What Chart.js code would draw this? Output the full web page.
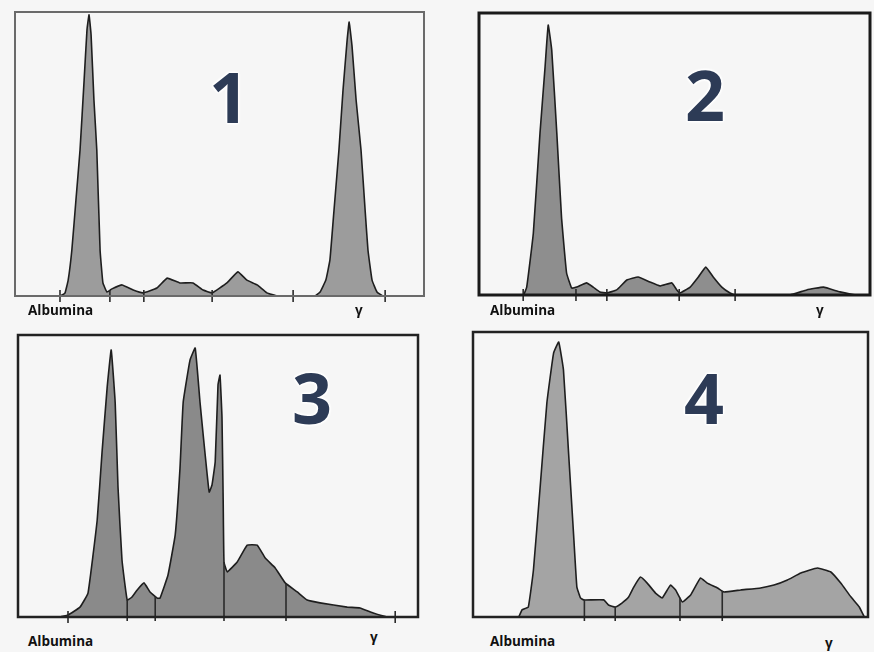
<!DOCTYPE html>
<html>
<head>
<meta charset="utf-8">
<script src="https://cdn.jsdelivr.net/npm/chart.js@4/dist/chart.umd.min.js"></script>
<style>
  html, body { margin:0; padding:0; background:#f6f6f6; }
  body { width:874px; height:652px; position:relative; overflow:hidden; font-family:"Open Sans", "Noto Sans", sans-serif; }
  canvas { position:absolute; }
  .lbl { position:absolute; font-weight:700; font-size:13.5px; color:#111; line-height:1; white-space:nowrap; }
  .num { position:absolute; font-family:"Open Sans", sans-serif; font-weight:700; font-size:70px; line-height:1; color:#2d3b56;
         text-shadow: 0 0 2px #fff, 0 0 3px #fff, 1px 1px 2px #fff, -1px -1px 2px #fff, 1px -1px 2px #fff, -1px 1px 2px #fff; transform:translate(-50%,-50%); }
</style>
</head>
<body>
<canvas id="c1"></canvas>
<canvas id="c2"></canvas>
<canvas id="c3"></canvas>
<canvas id="c4"></canvas>
<script>
// ---- data (mobility 0-100 across each panel, relative density 0-100) ----
const axisLabels = ['Albumina', 'γ'];
const panelNumbers = ['1', '2', '3', '4'];

const p1X = [0, 11.0, 12.2, 13.0, 13.9, 14.9, 15.9, 16.9, 17.6, 18.1, 18.6, 19.3, 20.0, 20.8, 21.5, 22.5, 23.7, 26.2, 28.9, 31.3, 34.7, 37.2, 40.3, 43.5, 46.0, 48.2, 51.8, 54.5, 56.7, 59.2, 61.6, 64.1, 73.3, 74.6, 76.0, 77.0, 78.0, 79.2, 80.2, 81.2, 81.7, 82.4, 83.4, 84.6, 85.6, 86.3, 87.3, 88.5, 90.0, 100];
const p1Y = [0, 0, 1, 5.6, 16.2, 33.8, 51.4, 76, 93.7, 99, 92, 69, 51.4, 16.2, 4.6, 1.4, 2.5, 3.9, 2.1, 1.1, 2.8, 6.3, 4.6, 4.6, 2.1, 1.1, 4.6, 8.5, 5.6, 3.9, 1.1, 0, 0, 1.4, 5.6, 12.7, 30.3, 51.4, 72.5, 90, 96.5, 88, 69, 51.4, 30.3, 16.2, 5.6, 1.4, 0, 0];
const p1Dividers = [11.0, 23.2, 31.5, 48.2, 68.0, 90.5];

const p2X = [0, 11.3, 12.2, 13.9, 15.6, 16.9, 17.7, 18.6, 19.9, 21.1, 22.4, 23.7, 25.0, 27.5, 29.2, 30.9, 32.7, 35.2, 37.8, 40.7, 43.7, 46.3, 49.3, 50.6, 51.4, 54.0, 56.1, 58.0, 59.9, 62.1, 64.2, 65.5, 79.5, 83.8, 88.1, 92.3, 96.6, 100];
const p2Y = [0, 0, 2.8, 22.0, 57.4, 80.9, 95.7, 86.9, 57.4, 27.7, 7.8, 2.5, 2.8, 4.3, 2.8, 1.1, 0.7, 1.8, 5.3, 6.4, 4.6, 3.2, 4.3, 1.8, 0.7, 2.8, 6.4, 9.9, 6.4, 2.8, 0.7, 0, 0, 1.8, 2.8, 1.1, 0, 0];
const p2Dividers = [11.3, 24.8, 32.7, 51.2, 65.5];

const p3X = [0, 10.5, 12.5, 15.5, 17.5, 19.8, 21.0, 22.3, 23.3, 24.3, 25.0, 26.0, 27.3, 28.5, 29.8, 31.5, 33.0, 34.8, 35.5, 37.5, 39.3, 40.5, 41.3, 43.0, 44.3, 45.5, 46.3, 47.3, 47.8, 48.5, 49.3, 50.0, 50.5, 51.0, 51.3, 51.5, 52.3, 54.8, 57.3, 59.8, 61.8, 64.3, 66.8, 69.8, 72.3, 75.5, 82.3, 85.5, 88.8, 92.3, 94.3, 100];
const p3Y = [0, 0, 0.7, 3.5, 8.5, 34.4, 58.2, 81.6, 94.7, 75.9, 46.1, 20.2, 6.0, 7.1, 9.6, 12.1, 8.9, 6.7, 6.7, 14.9, 29.1, 52.8, 76.2, 91.1, 95.4, 76.2, 64.5, 50.4, 44.3, 46.8, 55.0, 82.3, 85.8, 70.6, 40.8, 19.5, 16.0, 19.5, 25.5, 25.5, 20.9, 17.4, 12.1, 8.9, 6.0, 5.0, 3.5, 3.2, 1.4, 0, 0, 0];
const p3Dividers = [12.5, 27.3, 34.3, 51.5, 67.0, 94.3];
const p3DividerKinds = ['tick', 'line', 'line', 'line', 'line', 'tick'];

const p4X = [0, 11.5, 12.4, 14.0, 15.3, 17.0, 18.7, 20.4, 21.7, 22.9, 24.2, 25.5, 26.3, 27.2, 28.0, 33.1, 34.3, 36.0, 37.7, 39.4, 40.7, 42.4, 44.1, 46.2, 47.9, 50.0, 51.3, 53.0, 55.1, 57.6, 59.3, 61.9, 63.5, 67.8, 72.8, 76.2, 79.6, 83.0, 87.2, 90.6, 93.1, 95.7, 97.8, 99.1, 100];
const p4Y = [0, 0, 2.5, 3.5, 16.5, 45.6, 75.1, 92.6, 96.5, 86.7, 57.5, 28.1, 10.5, 6.7, 6.0, 6.0, 4.2, 3.5, 4.9, 7.0, 10.5, 14.0, 11.9, 8.4, 6.7, 11.2, 9.5, 5.3, 7.7, 13.7, 11.9, 10.2, 8.8, 9.5, 10.2, 11.2, 13.0, 15.4, 17.2, 15.8, 11.9, 7.0, 3.5, 0, 0];
const p4Dividers = [28.2, 36.0, 52.4, 63.1];
const p4DividerKinds = ['line', 'line', 'line', 'line'];

// ---- layout / styles ----
const panels = [
  { id:'c1', box:[15, 12, 424, 296], xs:p1X, ys:p1Y, div:p1Dividers, kinds:null, fill:'#9c9c9c', frame:'#6a6a6a', frameW:2,
    num:[229, 96], albu:[28, 304], gam:[355, 304] },
  { id:'c2', box:[479, 13, 870, 295], xs:p2X, ys:p2Y, div:p2Dividers, kinds:null, fill:'#8e8e8e', frame:'#1a1a1a', frameW:3,
    num:[705, 94], albu:[490, 304], gam:[816, 304] },
  { id:'c3', box:[18, 335, 418, 617], xs:p3X, ys:p3Y, div:p3Dividers, kinds:p3DividerKinds, fill:'#8a8a8a', frame:'#222', frameW:2.5,
    num:[312, 397], albu:[28, 635], gam:[370, 631] },
  { id:'c4', box:[473, 332, 868, 617], xs:p4X, ys:p4Y, div:p4Dividers, kinds:p4DividerKinds, fill:'#a4a4a4', frame:'#222', frameW:2.5,
    num:[704, 397], albu:[490, 635], gam:[825, 637] }
];

function interp(xs, ys, x) {
  for (let i = 1; i < xs.length; i++) {
    if (x <= xs[i]) {
      const t = (x - xs[i-1]) / (xs[i] - xs[i-1] || 1);
      return ys[i-1] + t * (ys[i] - ys[i-1]);
    }
  }
  return ys[ys.length - 1];
}

const framePlugin = {
  id: 'frameAndDividers',
  afterDatasetsDraw(chart, args, opts) {
    const { ctx, chartArea: a, scales } = chart;
    const p = opts.panel;
    ctx.save();
    ctx.strokeStyle = '#2a2a2a';
    ctx.lineWidth = 1.6;
    p.div.forEach((dx, i) => {
      const kind = p.kinds ? p.kinds[i] : 'tick';
      const x = scales.x.getPixelForValue(dx);
      ctx.beginPath();
      if (kind === 'line') {
        const v = interp(p.xs, p.ys, dx);
        ctx.moveTo(x, a.bottom + 4);
        ctx.lineTo(x, scales.y.getPixelForValue(v));
      } else {
        ctx.moveTo(x, a.bottom - 6);
        ctx.lineTo(x, a.bottom + 6);
      }
      ctx.stroke();
    });
    ctx.strokeStyle = p.frame;
    ctx.lineWidth = p.frameW;
    ctx.strokeRect(a.left, a.top, a.right - a.left, a.bottom - a.top);
    ctx.restore();
  }
};

const PAD = 8;
panels.forEach((p, k) => {
  const [L, T, R, B] = p.box;
  const padR = Math.min(PAD, 874 - R - 1);
  const cv = document.getElementById(p.id);
  cv.width = (R - L) + PAD + padR;
  cv.height = (B - T) + 2 * PAD;
  cv.style.left = (L - PAD) + 'px';
  cv.style.top = (T - PAD) + 'px';
  new Chart(cv, {
    type: 'line',
    data: {
      datasets: [{
        data: p.xs.map((x, i) => ({ x, y: p.ys[i] })),
        fill: 'origin',
        backgroundColor: p.fill,
        borderColor: '#1e1e1e',
        borderWidth: 1.6,
        borderJoinStyle: 'round',
        pointRadius: 0,
        tension: 0.1
      }]
    },
    options: {
      responsive: false,
      animation: false,
      devicePixelRatio: 1,
      layout: { padding: { left: PAD, right: padR, top: PAD, bottom: PAD } },
      plugins: { legend: { display: false }, tooltip: { enabled: false }, frameAndDividers: { panel: p } },
      scales: {
        x: { type: 'linear', min: 0, max: 100, display: false },
        y: { min: 0, max: 100, display: false }
      }
    },
    plugins: [framePlugin]
  });

  const a = document.createElement('div');
  a.className = 'lbl'; a.textContent = axisLabels[0];
  a.style.left = p.albu[0] + 'px'; a.style.top = p.albu[1] + 'px';
  document.body.appendChild(a);
  const g = document.createElement('div');
  g.className = 'lbl'; g.textContent = axisLabels[1];
  g.style.left = p.gam[0] + 'px'; g.style.top = p.gam[1] + 'px';
  document.body.appendChild(g);
  const n = document.createElement('div');
  n.className = 'num'; n.textContent = panelNumbers[k];
  n.style.left = p.num[0] + 'px'; n.style.top = p.num[1] + 'px';
  document.body.appendChild(n);
});
</script>
</body>
</html>
